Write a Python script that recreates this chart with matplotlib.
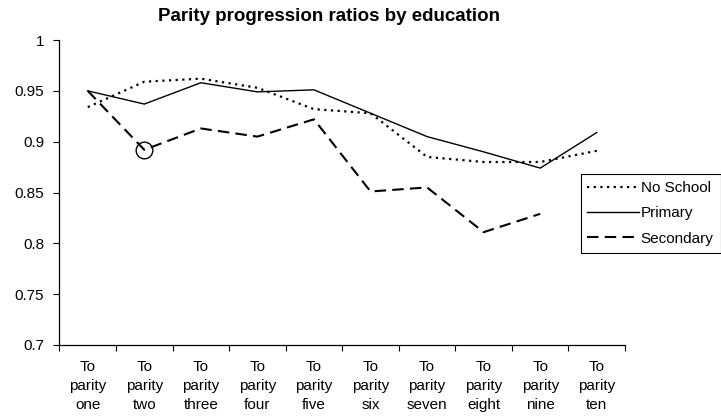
import numpy as np
import matplotlib
matplotlib.use("Agg")
import matplotlib.pyplot as plt

plt.rcParams['font.family'] = ['Liberation Sans', 'DejaVu Sans']

# parity progression ratios by mother's education
parities = ['one', 'two', 'three', 'four', 'five', 'six', 'seven', 'eight', 'nine', 'ten']
no_school = [0.934, 0.959, 0.962, 0.953, 0.932, 0.928, 0.885, 0.880, 0.880, 0.891]
primary = [0.950, 0.937, 0.958, 0.949, 0.951, 0.928, 0.905, 0.890, 0.874, 0.909]
secondary = [0.950, 0.892, 0.913, 0.905, 0.922, 0.851, 0.855, 0.811, 0.829, np.nan]
circled = 1  # secondary, to parity two

fig = plt.figure(figsize=(7.21, 4.17), dpi=100)
ax = fig.add_axes([0.0825, 0.1727, 0.7844, 0.7313])

x = np.arange(len(parities))
ax.plot(x, no_school, color='black', lw=1.6, ls=(0, (1, 2)), label='No School')
ax.plot(x, primary, color='black', lw=1.0, ls='-', label='Primary')
ax.plot(x, secondary, color='black', lw=1.5, ls=(0, (5.5, 3)), label='Secondary')
ax.plot(x[circled], secondary[circled], 'o', ms=12, mfc='none', mec='black', mew=1.0)

ax.set_xlim(-0.5, len(parities) - 0.5)
ax.set_ylim(0.7, 1.0)
ax.set_yticks(np.arange(0.7, 1.001, 0.05))
ax.set_yticklabels(['0.7', '0.75', '0.8', '0.85', '0.9', '0.95', '1'])

# labels at category centres, tick marks between categories
ax.set_xticks(x)
ax.set_xticklabels(['To\nparity\n' + p for p in parities], linespacing=1.42)
ax.set_xticks(np.arange(-0.5, len(parities)), minor=True)
ax.tick_params(axis='x', which='major', length=0, pad=11, labelsize=11)
ax.tick_params(axis='x', which='minor', length=4, direction='out', width=0.8)
ax.tick_params(axis='y', length=4, width=0.8, labelsize=11, pad=7)

for side in ['top', 'right']:
    ax.spines[side].set_visible(False)
for side in ['left', 'bottom']:
    ax.spines[side].set_linewidth(0.9)

fig.text(0.457, 0.96, 'Parity progression ratios by education',
         ha='center', va='center', fontsize=13.5, fontweight='bold')

leg = fig.legend(loc='upper left', bbox_to_anchor=(580.5 / 721, 1 - 174 / 417),
                 fontsize=11, handlelength=3.4, handletextpad=0.1,
                 borderpad=0.45, labelspacing=0.75, borderaxespad=0,
                 fancybox=False, framealpha=1)
leg.get_frame().set_edgecolor('black')
leg.get_frame().set_linewidth(0.8)

fig.savefig('out.png', dpi=100)
